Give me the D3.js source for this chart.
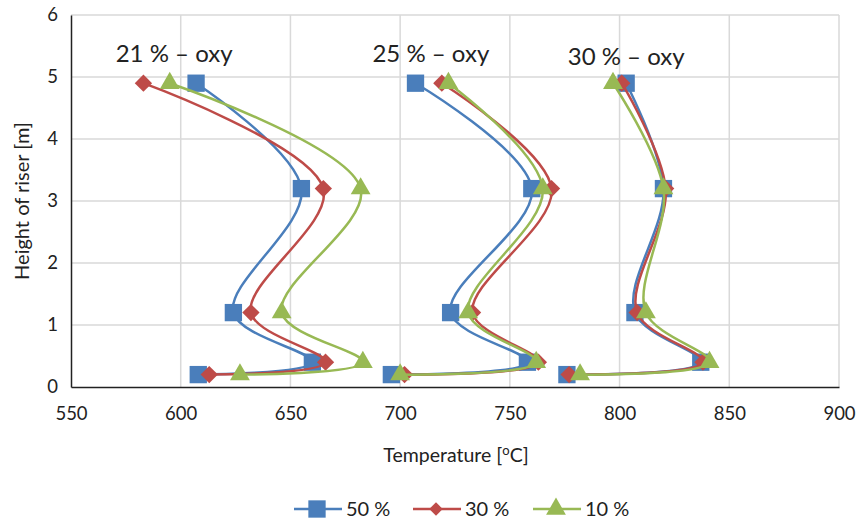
<!DOCTYPE html>
<html><head><meta charset="utf-8">
<script src="https://cdn.jsdelivr.net/npm/d3@7"></script>
<style>body{margin:0;background:#fff}svg{display:block}text{font-family:Lato,"Open Sans",sans-serif;fill:#222}</style>
</head><body><svg id="c" width="858" height="519"></svg>
<script>
const heights = [0.2, 0.4, 1.2, 3.2, 4.9];
const groups = ["21 % – oxy", "25 % – oxy", "30 % – oxy"];
const seriesNames = ["50 %", "30 %", "10 %"];
// temperatures per series per group, ordered by heights
const s50 = [[608, 660, 624, 655, 607], [696, 758, 723, 760, 707], [776, 837, 807, 820, 803]];
const s30 = [[613, 666, 632, 665, 583], [702, 763, 733, 769, 719], [777, 838, 808, 821, 801]];
const s10 = [[627, 683, 646, 682, 595], [700, 762, 731, 765, 722], [782, 841, 812, 820, 797]];
const xTicks = [550, 600, 650, 700, 750, 800, 850, 900];
const yTicks = [0, 1, 2, 3, 4, 5, 6];
const labelPos = [[597, 5.24], [714, 5.24], [803, 5.2]];
const colors = ["#4a7ebb", "#be4b48", "#98b954"];

const svg = d3.select("#c");
const L = 71, R = 839, T = 15, B = 387;
const x = d3.scaleLinear().domain([550, 900]).range([L, R]);
const y = d3.scaleLinear().domain([0, 6]).range([B, T]);

// grid
svg.append("g").selectAll("line").data(yTicks.slice(1)).join("line")
  .attr("x1", L).attr("x2", R).attr("y1", d => y(d)).attr("y2", d => y(d))
  .attr("stroke", "#d9d9d9").attr("stroke-width", 1.5);
svg.append("g").selectAll("line").data(xTicks.slice(1)).join("line")
  .attr("x1", d => x(d)).attr("x2", d => x(d)).attr("y1", T).attr("y2", B)
  .attr("stroke", "#d9d9d9").attr("stroke-width", 1.5);

// axes
const xa = svg.append("g").attr("transform", `translate(0,${B})`)
  .call(d3.axisBottom(x).tickValues(xTicks).tickSize(0).tickPadding(20).tickFormat(d3.format("d")));
xa.select(".domain").attr("stroke", "#222").attr("stroke-width", 1.5);
xa.selectAll("text").attr("font-size", 18.5).attr("font-family", "Lato,sans-serif").attr("fill", "#222");
const ya = svg.append("g").attr("transform", `translate(${L},0)`)
  .call(d3.axisLeft(y).tickValues(yTicks).tickSize(0).tickPadding(13).tickFormat(d3.format("d")));
ya.select(".domain").attr("stroke", "#222").attr("stroke-width", 1.5);
ya.selectAll("text").attr("font-size", 18.5).attr("font-family", "Lato,sans-serif").attr("fill", "#222");

svg.append("text").attr("transform", `translate(29,${(T + B) / 2}) rotate(-90)`)
  .attr("text-anchor", "middle").attr("font-size", 20).text("Height of riser [m]");
const xt = svg.append("text").attr("x", 456).attr("y", 462).attr("text-anchor", "middle").attr("font-size", 19.5);
xt.append("tspan").text("Temperature [");
xt.append("tspan").attr("font-size", 13).attr("dy", -7).text("o");
xt.append("tspan").attr("dy", 7).text("C]");

// group labels
svg.append("g").selectAll("text").data(groups).join("text")
  .attr("x", (d, i) => x(labelPos[i][0])).attr("y", (d, i) => y(labelPos[i][1]))
  .attr("text-anchor", "middle").attr("font-size", 24).text(d => d);

function marker(sel, si, k) {
  if (si === 0) return sel.attr("d", d3.symbol().type(d3.symbolSquare).size(300 * k));
  if (si === 1) return sel.attr("d", d3.symbol().type(d3.symbolSquare).size(150 * k));
  return sel.attr("d", d3.symbol().type(d3.symbolTriangle).size(170 * k));
}

const line = d3.line().x(d => x(d[0])).y(d => y(d[1])).curve(d3.curveCatmullRom.alpha(0.5));
const allSeries = [s50, s30, s10];
allSeries.forEach((ser, si) => {
  const g = svg.append("g");
  ser.forEach(vals => {
    const pts = vals.map((v, i) => [v, heights[i]]);
    g.append("path").attr("d", line(pts)).attr("fill", "none")
      .attr("stroke", colors[si]).attr("stroke-width", 2.5);
    const m = g.selectAll(null).data(pts).join("path")
      .attr("transform", d => `translate(${x(d[0])},${y(d[1])})${si === 1 ? " rotate(45)" : ""}`)
      .attr("fill", colors[si]);
    marker(m, si, 1);
  });
});

// legend
const lg = svg.append("g");
const legX = [294, 413, 533];
const legK = [1, 0.6, 1];
seriesNames.forEach((n, i) => {
  const gx = legX[i], gy = 509;
  lg.append("line").attr("x1", gx).attr("x2", gx + 48).attr("y1", gy).attr("y2", gy)
    .attr("stroke", colors[i]).attr("stroke-width", 2.5);
  const m = lg.append("path").attr("transform", `translate(${gx + 23},${gy})${i === 1 ? " rotate(45)" : ""}`)
    .attr("fill", colors[i]);
  marker(m, i, legK[i]);
  lg.append("text").attr("x", gx + 52).attr("y", gy + 7).attr("font-size", 20).text(n);
});
</script></body></html>
